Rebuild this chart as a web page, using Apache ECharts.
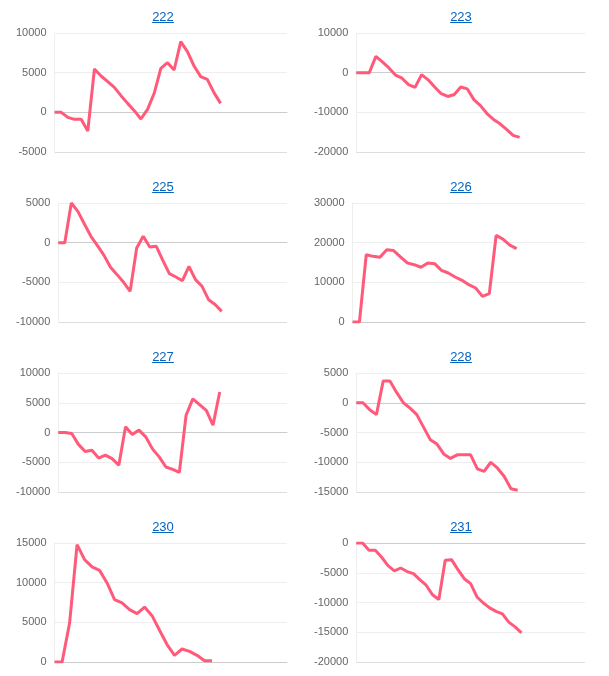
<!DOCTYPE html>
<html>
<head>
<meta charset="utf-8">
<script src="https://cdn.jsdelivr.net/npm/echarts@6/dist/echarts.min.js"></script>
<style>
  body { margin: 0; background: #fff; font-family: Arial, "Liberation Sans", sans-serif; }
  .cell { position: absolute; width: 306px; height: 170px; }
  .cell a { position: absolute; left: 0; right: 0; top: 9px; text-align: center; font-size: 13px; color: #0563c1; text-decoration: underline; z-index: 2; }
  .chart { position: absolute; left: 0; top: 0; width: 306px; height: 170px; }
</style>
</head>
<body>
<div id="wrap"></div>
<script>
// chart names, in reading order
var names = ['222', '223', '225', '226', '227', '228', '230', '231'];

// series values
var s222 = [0, 0, -630, -880, -880, -2350, 5460, 4580, 3870, 3150, 2100, 1130, 210, -840, 380, 2400, 5550, 6260, 5340, 8910, 7650, 5840, 4500, 4160, 2480, 1130];
var s223 = [0, 0, 0, 4100, 2700, 1200, -600, -1400, -3000, -3700, -500, -1800, -3600, -5300, -6000, -5500, -3600, -4100, -6800, -8300, -10300, -11800, -12900, -14300, -15800, -16300];
var s225 = [0, 0, 5000, 3950, 2350, 800, -380, -1600, -3100, -4030, -5000, -6130, -670, 800, -550, -460, -2230, -3900, -4330, -4800, -3000, -4660, -5500, -7190, -7800, -8660];
var s226 = [0, 0, 16970, 16550, 16300, 18200, 18000, 16400, 14900, 14450, 13800, 14900, 14700, 13000, 12350, 11350, 10500, 9400, 8570, 6470, 7140, 21850, 20900, 19400, 18500];
var s227 = [0, 0, -170, -2000, -3200, -3000, -4300, -3800, -4400, -5500, 950, -340, 400, -730, -2750, -4100, -5800, -6200, -6700, 2900, 5650, 4700, 3700, 1230, 6800];
var s228 = [0, 0, -1180, -2000, 3640, 3640, 1740, 0, -900, -2000, -4100, -6200, -6950, -8600, -9350, -8750, -8750, -8750, -11100, -11550, -10000, -11000, -12400, -14450, -14700];
var s230 = [0, 0, 4900, 14800, 12900, 12000, 11550, 9960, 7860, 7440, 6600, 6100, 6930, 5840, 4000, 2200, 840, 1640, 1340, 840, 170, 170];
var s231 = [0, 0, -1230, -1230, -2400, -3800, -4700, -4200, -4800, -5150, -6160, -7100, -8700, -9500, -2900, -2800, -4480, -6000, -6830, -9070, -10080, -10900, -11500, -11900, -13300, -14100, -15100];

// y tick labels per chart
var t222 = [-5000, 0, 5000, 10000];
var t223 = [-20000, -10000, 0, 10000];
var t225 = [-10000, -5000, 0, 5000];
var t226 = [0, 10000, 20000, 30000];
var t227 = [-10000, -5000, 0, 5000, 10000];
var t228 = [-15000, -10000, -5000, 0, 5000];
var t230 = [0, 5000, 10000, 15000];
var t231 = [-20000, -15000, -10000, -5000, 0];

var seriesList = [s222, s223, s225, s226, s227, s228, s230, s231];
var tickList = [t222, t223, t225, t226, t227, t228, t230, t231];

// x axis runs 10 empty slots past the last point
var extraSlots = 10;

var wrap = document.getElementById('wrap');

names.forEach(function (name, i) {
  var cell = document.createElement('div');
  cell.className = 'cell';
  cell.style.left = (i % 2 === 0 ? 10 : 308) + 'px';
  cell.style.top = (Math.floor(i / 2) * 170) + 'px';
  var link = document.createElement('a');
  link.href = '#';
  link.textContent = name;
  var box = document.createElement('div');
  box.className = 'chart';
  cell.appendChild(box);
  cell.appendChild(link);
  wrap.appendChild(cell);

  var data = seriesList[i];
  var ticks = tickList[i];
  var cats = [];
  for (var k = 0; k < data.length + extraSlots; k++) { cats.push(String(k + 1)); }

  var option = {
    animation: false,
    grid: { left: 6, right: 29, top: 33, bottom: 18, containLabel: true },
    xAxis: {
      type: 'category',
      data: cats,
      boundaryGap: false,
      axisLine: { lineStyle: { color: '#cccccc' } },
      axisTick: { show: false },
      axisLabel: { show: false },
      splitLine: { show: false }
    },
    yAxis: {
      type: 'value',
      min: ticks[0],
      max: ticks[ticks.length - 1],
      interval: ticks[1] - ticks[0],
      axisLine: { show: true, lineStyle: { color: '#eeeeee' } },
      axisTick: { show: false },
      axisLabel: {
        color: '#666666', fontSize: 11, fontFamily: 'Arial', margin: 8,
        formatter: function (v) { return String(v); }
      },
      splitLine: { lineStyle: { color: ['#dddddd', '#eeeeee', '#eeeeee', '#eeeeee', '#eeeeee'] } }
    },
    series: [{
      type: 'line',
      data: data,
      showSymbol: false,
      symbol: 'none',
      lineStyle: { color: '#ff5a7a', width: 3 },
      itemStyle: { color: '#ff5a7a' }
    }]
  };

  var myChart = echarts.init(box);
  myChart.setOption(option);
});
</script>
</body>
</html>
